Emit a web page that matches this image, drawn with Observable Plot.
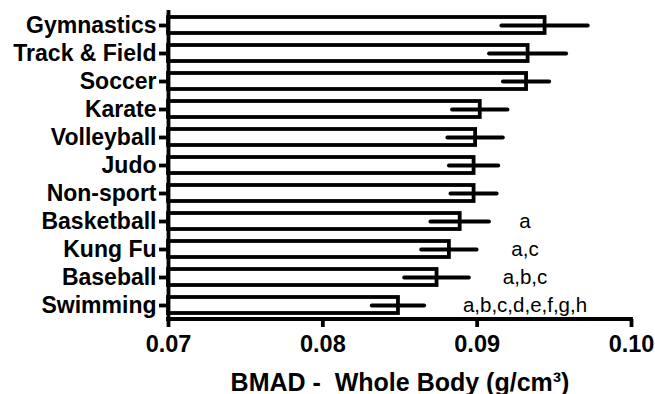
<!DOCTYPE html>
<html>
<head>
<meta charset="utf-8">
<script src="https://cdn.jsdelivr.net/npm/d3@7"></script>
<script src="https://cdn.jsdelivr.net/npm/@observablehq/plot@0.6"></script>
<style>
  html, body { margin: 0; padding: 0; background: #fff; }
  #chart svg { display: block; }
</style>
</head>
<body>
<div id="chart"></div>
<script>
const categories = ["Gymnastics", "Track & Field", "Soccer", "Karate", "Volleyball", "Judo", "Non-sport", "Basketball", "Kung Fu", "Baseball", "Swimming"];
const means  = [0.0944, 0.0933, 0.0932, 0.0902, 0.0899, 0.0898, 0.0898, 0.0889, 0.0882, 0.0874, 0.0849];
const errors = [0.0028, 0.0025, 0.0015, 0.0018, 0.0018, 0.0016, 0.0015, 0.0019, 0.0018, 0.0021, 0.0017];
const letters = ["", "", "", "", "", "", "", "a", "a,c", "a,b,c", "a,b,c,d,e,f,g,h"];
const xTicks = [0.07, 0.08, 0.09, 0.10];
const xTitle = "BMAD -\u00a0 Whole Body (g/cm\u00b3)";

const rows = categories.map((c, i) => ({sport: c, mean: means[i], err: errors[i], sig: letters[i]}));
const base = xTicks[0];
const font = "Liberation Sans, Arial, Helvetica, sans-serif";
const sw = 3.8;

const xAxisLine = (index, scales, values, dims) => {
  const y = dims.height - dims.marginBottom;
  const [a, b] = scales.scales.x.domain;
  const line = d3.create("svg:line")
    .attr("x1", scales.x(a) - sw / 2).attr("x2", scales.x(b) + sw / 2)
    .attr("y1", y).attr("y2", y)
    .attr("stroke", "black").attr("stroke-width", sw);
  return line.node();
};

const chart = Plot.plot({
  width: 655,
  height: 394,
  marginLeft: 168,
  marginRight: 24,
  marginTop: 10,
  marginBottom: 75,
  style: {fontFamily: font, background: "white", color: "black"},
  x: {domain: [0.07, 0.10]},
  y: {domain: categories, paddingInner: 0.43, paddingOuter: 0.215},
  marks: [
    Plot.barX(rows, {y: "sport", x1: () => base, x2: "mean", fill: "white", stroke: "black", strokeWidth: sw}),
    Plot.ruleY(rows, {y: "sport", x1: d => d.mean - d.err, x2: d => d.mean + d.err, stroke: "black", strokeWidth: sw, strokeLinecap: "round"}),
    Plot.ruleX([base], {stroke: "black", strokeWidth: sw}),
    xAxisLine,
    Plot.axisX({ticks: xTicks, tickFormat: d3.format(".2f"), tickSize: 8, tickPadding: 8, strokeWidth: sw, fontSize: 23.5, fontWeight: "bold", fill: "black", label: null}),
    Plot.axisY({tickSize: 9, tickPadding: 3, strokeWidth: sw, fontSize: 23, fontWeight: "bold", fill: "black", label: null}),
    Plot.text(rows, {y: "sport", x: () => 0.0931, text: "sig", fontSize: 20.5, textAnchor: "middle", fill: "black"}),
    Plot.text([xTitle], {frameAnchor: "bottom", dy: 63, lineAnchor: "middle", fontSize: 25, fontWeight: "bold", fill: "black"})
  ]
});
document.getElementById("chart").appendChild(chart);
</script>
</body>
</html>
